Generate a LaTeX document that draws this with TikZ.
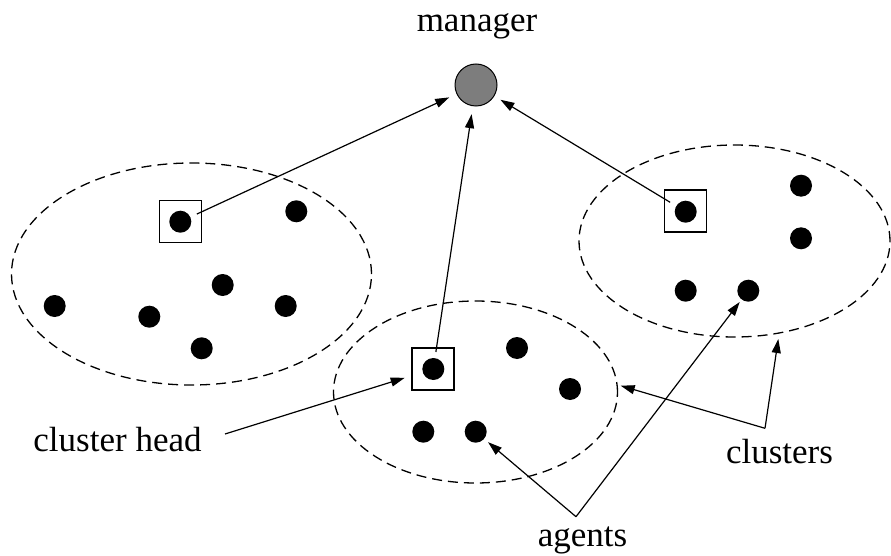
\documentclass[tikz,border=0pt]{standalone}
\usepackage{fontspec}
\setmainfont{Liberation Serif}
\usetikzlibrary{shapes.geometric,arrows.meta}
\definecolor{mgrgray}{RGB}{125,125,125}
\begin{document}
\begin{tikzpicture}[x=1pt,y=-1pt,
  lbl/.style={font=\fontsize{35}{40}\selectfont, anchor=base, inner sep=0},
  agent/.style={circle, fill=black, minimum size=22, inner sep=0},
  headbox/.style={draw, line width=1.2pt, minimum size=42, inner sep=0},
  cluster/.style={ellipse, draw, dashed, dash pattern=on 10pt off 6pt, line width=1.3pt, inner sep=0},
  conn/.style={line width=1.2pt},
  arr/.style={conn, -{Triangle[length=14pt,width=9pt]}}]
\useasboundingbox (0,0) rectangle (891,556);

% clusters
\node[cluster, minimum width=360, minimum height=222] (lcl) at (191.5,274) {};
\node[cluster, minimum width=284, minimum height=182] (mcl) at (475.5,392) {};
\node[cluster, minimum width=311, minimum height=192] (rcl) at (734.5,241) {};

% manager
\node[lbl] (mgrtxt) at (477,31.7) {manager};
\node[circle, draw, line width=1pt, fill=mgrgray, minimum size=42, inner sep=0] (mgr) at (476,85) {};

% left cluster
\node[headbox] (lhb) at (180.5,221.7) {};
\node[agent] (lh) at (180.3,221.7) {};
\node[agent] (l1) at (296.3,211.3) {};
\node[agent] (l2) at (222.7,285) {};
\node[agent] (l3) at (54.7,306) {};
\node[agent] (l4) at (149.3,316.7) {};
\node[agent] (l5) at (285.7,306) {};
\node[agent] (l6) at (201.7,348.3) {};

% middle cluster
\node[headbox] (mhb) at (433,369) {};
\node[agent] (mh) at (433.3,369) {};
\node[agent] (m1) at (517,348) {};
\node[agent] (m2) at (570,389) {};
\node[agent] (m3) at (423.3,431.7) {};
\node[agent] (m4) at (475.7,431.7) {};

% right cluster
\node[headbox] (rhb) at (685.5,211) {};
\node[agent] (rh) at (685.7,211.7) {};
\node[agent] (r1) at (801,185.7) {};
\node[agent] (r2) at (801,238.3) {};
\node[agent] (r3) at (685.7,290.7) {};
\node[agent] (r4) at (748.3,290.7) {};

% cluster heads report to the manager
\draw[arr, shorten <=7pt, shorten >=8pt] (lh) -- (mgr);
\draw[arr, shorten <=6pt, shorten >=8pt] (mh) -- (mgr);
\draw[arr, shorten <=7pt, shorten >=7pt] (rh) -- (mgr);

% labels
\node[lbl] (chtxt) at (117.5,451.7) {cluster head};
\node[lbl] (cltxt) at (779.5,463.3) {clusters};
\node[lbl] (agtxt) at (582.5,546.7) {agents};

\coordinate (chs) at (225,434);
\coordinate (clv) at (765,428.3);
\coordinate (agv) at (576,516.7);
\coordinate (ct1) at (620.7,385.7);
\coordinate (ct2) at (778.3,339);

\draw[arr, shorten >=7pt] (chs) -- (mhb);
\draw[arr] (clv) -- (ct1);
\draw[arr] (clv) -- (ct2);
\draw[arr, shorten >=5pt] (agv) -- (m4);
\draw[arr, shorten >=3pt] (agv) -- (r4);
\end{tikzpicture}
\end{document}
